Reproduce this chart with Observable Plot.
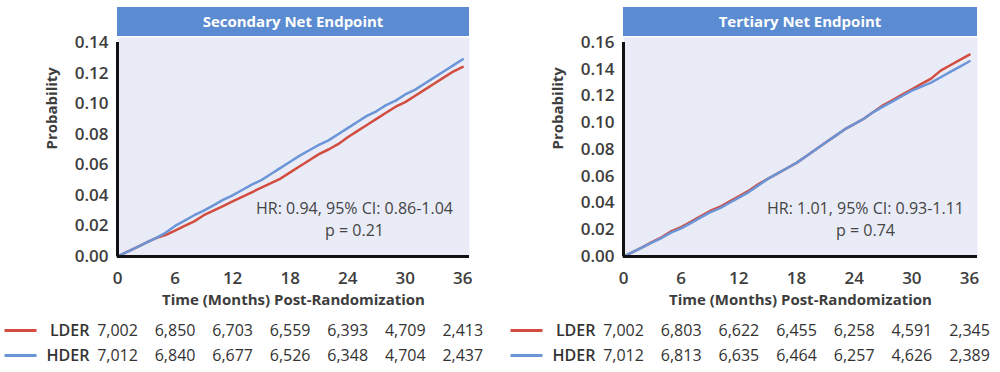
<!DOCTYPE html>
<html><head><meta charset="utf-8">
<script src="https://cdn.jsdelivr.net/npm/d3@7"></script>
<script src="https://cdn.jsdelivr.net/npm/@observablehq/plot@0.6"></script>
<style>
body{margin:0;background:#fff;font-family:"Open Sans",sans-serif;}
#row{display:flex;width:1000px;height:372px;overflow:hidden}
.panel{width:500px;flex:0 0 500px}
.title{margin-top:7px;height:29px;line-height:29px;background:#5b8bd0;color:#fff;font-weight:700;font-size:15px;text-align:center}
.panel svg{display:block;overflow:visible}
</style></head>
<body><div id="row"></div>
<script>
const tickMonths = [0, 6, 12, 18, 24, 30, 36];
const groups = ["LDER", "HDER"];
const groupColors = ["#d24c3f", "#6b95d6"];
const curveMonths = [0,1,2,3,4,5,6,7,8,9,10,11,12,13,14,15,16,17,18,19,20,21,22,23,24,25,26,27,28,29,30,31,32,33,34,35,36];
const secondaryLDER = [0,0.003,0.006,0.009,0.012,0.014,0.017,0.020,0.023,0.027,0.030,0.033,0.036,0.039,0.042,0.045,0.048,0.051,0.055,0.059,0.063,0.067,0.070,0.0735,0.078,0.082,0.086,0.090,0.094,0.098,0.101,0.105,0.109,0.113,0.117,0.121,0.124];
const secondaryHDER = [0,0.003,0.006,0.009,0.012,0.0155,0.020,0.0235,0.027,0.030,0.0335,0.037,0.040,0.0435,0.047,0.050,0.054,0.058,0.062,0.066,0.0695,0.073,0.076,0.080,0.084,0.088,0.092,0.095,0.099,0.102,0.106,0.109,0.113,0.117,0.121,0.125,0.129];
const tertiaryLDER = [0,0.0035,0.007,0.011,0.0145,0.019,0.022,0.026,0.030,0.034,0.037,0.041,0.045,0.049,0.054,0.058,0.062,0.066,0.070,0.075,0.080,0.085,0.090,0.095,0.099,0.103,0.108,0.113,0.117,0.121,0.125,0.129,0.133,0.139,0.143,0.147,0.151];
const tertiaryHDER = [0,0.0035,0.007,0.0105,0.014,0.018,0.021,0.025,0.029,0.033,0.036,0.040,0.044,0.048,0.053,0.058,0.062,0.066,0.070,0.075,0.080,0.085,0.090,0.095,0.099,0.103,0.108,0.112,0.116,0.120,0.124,0.127,0.130,0.134,0.138,0.142,0.146];
const secondaryAtRiskLDER = [7002, 6850, 6703, 6559, 6393, 4709, 2413];
const secondaryAtRiskHDER = [7012, 6840, 6677, 6526, 6348, 4704, 2437];
const tertiaryAtRiskLDER = [7002, 6803, 6622, 6455, 6258, 4591, 2345];
const tertiaryAtRiskHDER = [7012, 6813, 6635, 6464, 6257, 4626, 2389];
const secondaryYTicks = [0, 0.02, 0.04, 0.06, 0.08, 0.10, 0.12, 0.14];
const tertiaryYTicks = [0, 0.02, 0.04, 0.06, 0.08, 0.10, 0.12, 0.14, 0.16];
const titles = ["Secondary Net Endpoint", "Tertiary Net Endpoint"];
const hrTexts = ["HR: 0.94, 95% CI: 0.86-1.04", "HR: 1.01, 95% CI: 0.93-1.11"];
const pTexts = ["p = 0.21", "p = 0.74"];
const xLabel = "Time (Months) Post-Randomization";
const yLabel = "Probability";

const lineSymbol = {draw(ctx){ ctx.moveTo(-16, 0); ctx.lineTo(16, 0); }};

function panel({title, lder, hder, riskL, riskH, yTicks, hr, p, marginLeft, marginRight, xMax, titleLeft, titleWidth, annDx}) {
  const div = document.createElement("div");
  div.className = "panel";
  const t = document.createElement("div");
  t.className = "title";
  t.style.marginLeft = titleLeft + "px";
  t.style.width = titleWidth + "px";
  t.textContent = title;
  div.appendChild(t);
  const curve = [];
  curveMonths.forEach((m, i) => curve.push({m, v: lder[i], g: "LDER"}));
  curveMonths.forEach((m, i) => curve.push({m, v: hder[i], g: "HDER"}));
  const main = Plot.plot({
    width: 500, height: 276, marginLeft, marginRight, marginTop: 6, marginBottom: 56,
    style: {fontFamily: "Open Sans", fontSize: "17px", color: "#3d3d3d", background: "transparent"},
    x: {domain: [0, xMax]},
    y: {domain: [0, yTicks[yTicks.length - 1]]},
    color: {domain: groups, range: groupColors},
    marks: [
      Plot.frame({fill: "#e9ecf7", stroke: null, insetTop: -5}),
      Plot.line(curve, {x: "m", y: "v", z: "g", stroke: "g", strokeWidth: 2.5}),
      Plot.ruleX([0], {stroke: "#111", strokeWidth: 3}),
      Plot.ruleY([0], {stroke: "#111", strokeWidth: 3}),
      Plot.axisX({ticks: tickMonths, tickSize: 0, tickPadding: 15, label: null, fontWeight: 600}),
      Plot.axisY({ticks: yTicks, tickSize: 0, tickPadding: 9, tickFormat: ".2f", label: null, fontWeight: 600}),
      Plot.text([xLabel], {text: d => d, frameAnchor: "bottom", dy: 48, fontWeight: "bold", fontSize: 15}),
      Plot.text([yLabel], {text: d => d, frameAnchor: "left", rotate: -90, dx: -65, fontWeight: "bold", fontSize: 15}),
      Plot.text([hr + "\n" + p], {text: d => d, frameAnchor: "bottom-right", dx: annDx, dy: -21, lineAnchor: "bottom", textAnchor: "middle", fontSize: 16, lineHeight: 1.375, fill: "#444", fontWeight: 500})
    ]
  });
  div.appendChild(main);
  const rows = [];
  tickMonths.forEach((m, i) => rows.push({m, g: "LDER", n: riskL[i]}));
  tickMonths.forEach((m, i) => rows.push({m, g: "HDER", n: riskH[i]}));
  const table = Plot.plot({
    width: 500, height: 60, marginLeft, marginRight, marginTop: 18, marginBottom: 17,
    style: {fontFamily: "Open Sans", fontSize: "16px", color: "#333", background: "transparent"},
    x: {domain: [0, xMax], axis: null},
    y: {type: "point", domain: groups, padding: 0},
    color: {domain: groups, range: groupColors},
    marks: [
      Plot.text(rows, {x: "m", y: "g", text: d => d3.format(",")(d.n), fill: "#333", fontWeight: 500}),
      Plot.axisY({tickSize: 0, tickPadding: 28, label: null, fontWeight: 600}),
      Plot.dot(groups, {x: () => tickMonths[0], y: d => d, stroke: d => d, symbol: lineSymbol, fill: "none", strokeWidth: 3, dx: -97})
    ]
  });
  div.appendChild(table);
  return div;
}

const row = document.getElementById("row");
row.appendChild(panel({title: titles[0], lder: secondaryLDER, hder: secondaryHDER, riskL: secondaryAtRiskLDER, riskH: secondaryAtRiskHDER, yTicks: secondaryYTicks, hr: hrTexts[0], p: pTexts[0], marginLeft: 117, marginRight: 31, xMax: 36.7, titleLeft: 117, titleWidth: 352, annDx: -115}));
row.appendChild(panel({title: titles[1], lder: tertiaryLDER, hder: tertiaryHDER, riskL: tertiaryAtRiskLDER, riskH: tertiaryAtRiskHDER, yTicks: tertiaryYTicks, hr: hrTexts[1], p: pTexts[1], marginLeft: 123, marginRight: 23, xMax: 36.83, titleLeft: 123, titleWidth: 354, annDx: -112}));
</script></body></html>
